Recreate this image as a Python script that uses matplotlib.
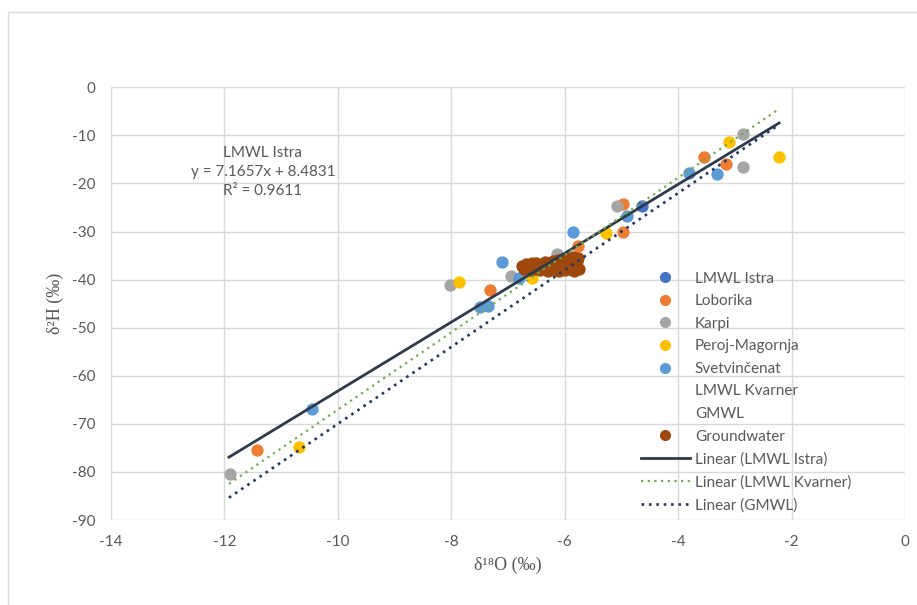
import numpy as np
import matplotlib.pyplot as plt
from matplotlib.patches import Rectangle
from matplotlib.lines import Line2D

# values (delta18O, delta2H)
istra_x = [-4.63]
istra_y = [-24.7]

loborika_x = [-11.42, -7.32, -5.76, -4.97, -4.97, -3.55, -3.15]
loborika_y = [-75.4, -42.1, -33.0, -24.3, -30.2, -14.4, -15.9]

karpi_x = [-11.91, -8.02, -6.94, -6.13, -5.08, -2.86, -2.86]
karpi_y = [-80.5, -41.1, -39.2, -34.7, -24.6, -9.8, -16.5]

peroj_x = [-10.68, -7.86, -6.58, -5.28, -3.11, -2.22]
peroj_y = [-74.9, -40.6, -39.7, -30.4, -11.3, -14.6]

svet_x = [-10.46, -7.49, -7.35, -7.10, -6.80, -5.85, -4.90, -3.80, -3.32]
svet_y = [-66.9, -45.6, -45.5, -36.3, -39.6, -30.0, -26.7, -17.9, -18.0]

gw_x = [-6.75, -6.72, -6.68, -6.65, -6.62, -6.58, -6.55, -6.52, -6.50, -6.47,
        -6.44, -6.42, -6.38, -6.35, -6.32, -6.30, -6.27, -6.24, -6.20, -6.18,
        -6.15, -6.12, -6.10, -6.07, -6.04, -6.02, -6.00, -5.97, -5.95, -5.92,
        -5.90, -5.87, -5.85, -5.83, -5.80, -5.78, -5.76, -5.75, -6.60, -6.28,
        -5.98]
gw_y = [-37.2, -37.8, -36.8, -37.5, -38.0, -36.5, -37.2, -37.8, -36.6, -37.4,
        -38.1, -36.9, -37.6, -36.4, -37.2, -38.2, -36.8, -37.5, -36.2, -37.9,
        -37.0, -36.0, -38.3, -37.3, -35.8, -36.7, -38.0, -37.1, -35.6, -36.4,
        -37.8, -36.9, -35.4, -38.2, -37.3, -36.2, -35.5, -37.7, -37.0, -37.0,
        -36.5]

# trendlines: slope, intercept, x range
istra_fit = (7.1657, 8.4831)
kvarner_fit = (8.04, 13.35)
gmwl_fit = (8.0, 10.0)
fit_x = [-11.92, -2.22]

plt.rcParams['font.family'] = ['Lato', 'DejaVu Sans']
plt.rcParams['axes.unicode_minus'] = False

fig = plt.figure(figsize=(9.17, 6.05), dpi=100)
fig.patches.append(Rectangle((7.5 / 917, -0.1), 1.2, 1 - 12 / 605 + 0.1,
                             transform=fig.transFigure, fill=False,
                             edgecolor='#D9D9D9', lw=1))
ax = fig.add_axes([111 / 917, 1 - 520 / 605, 794 / 917, 432.7 / 605])

ms = 62
ax.scatter(istra_x, istra_y, s=ms, color='#4472C4', zorder=3, label='LMWL Istra')
ax.scatter(loborika_x, loborika_y, s=ms, color='#ED7D31', zorder=3, label='Loborika')
ax.scatter(karpi_x, karpi_y, s=ms, color='#A5A5A5', zorder=3, label='Karpi')
ax.scatter(peroj_x, peroj_y, s=ms, color='#FFC000', zorder=3, label='Peroj-Magornja')
ax.scatter(svet_x, svet_y, s=ms, color='#5B9BD5', zorder=3, label='Svetvinčenat')
ax.scatter(gw_x, gw_y, s=ms, color='#9E480E', zorder=4, label='Groundwater')

fx = np.array(fit_x)
ax.plot(fx, istra_fit[0] * fx + istra_fit[1], color='#2E3B4E', lw=2, zorder=5)
ax.plot(fx, kvarner_fit[0] * fx + kvarner_fit[1], color='#70AD47', lw=1.6,
        linestyle=(0, (1, 2)), zorder=5)
ax.plot(fx, gmwl_fit[0] * fx + gmwl_fit[1], color='#203864', lw=1.9,
        linestyle=(0, (1, 1.8)), zorder=5)

ax.set_xlim(-14, 0)
ax.set_ylim(-90, 0)
ax.set_xticks(range(-14, 1, 2))
ax.set_yticks(range(-90, 1, 10))
ax.grid(True, color='#D9D9D9', lw=1)
ax.set_axisbelow(True)
for s in ax.spines.values():
    s.set_visible(False)
ax.tick_params(length=0, labelsize=11, labelcolor='#595959')
ax.tick_params(axis='y', pad=11)
ax.tick_params(axis='x', pad=11)

ax.set_xlabel('δ¹⁸O (‰)', family=['Liberation Serif', 'DejaVu Serif'],
              fontsize=13, color='#595959', labelpad=5)
ax.set_ylabel('δ²H (‰)', family=['Liberation Serif', 'DejaVu Serif'],
              fontsize=13, color='#595959', labelpad=6)

ax.text(-11.32, -17.6, 'LMWL Istra\ny = 7.1657x + 8.4831\nR² = 0.9611',
        ha='center', va='center', fontsize=11, color='#595959', linespacing=1.45)

mk = dict(marker='o', linestyle='none', markersize=7)
handles = [
    Line2D([], [], color='#4472C4', **mk),
    Line2D([], [], color='#ED7D31', **mk),
    Line2D([], [], color='#A5A5A5', **mk),
    Line2D([], [], color='#FFC000', **mk),
    Line2D([], [], color='#5B9BD5', **mk),
    Line2D([], [], color='none'),
    Line2D([], [], color='none'),
    Line2D([], [], color='#9E480E', **mk),
    Line2D([], [], color='#2E3B4E', lw=2),
    Line2D([], [], color='#70AD47', lw=1.6, linestyle=(0, (1, 2))),
    Line2D([], [], color='#203864', lw=1.9, linestyle=(0, (1, 1.8))),
]
labels = ['LMWL Istra', 'Loborika', 'Karpi', 'Peroj-Magornja', 'Svetvinčenat',
          'LMWL Kvarner', 'GMWL', 'Groundwater', 'Linear (LMWL Istra)',
          'Linear (LMWL Kvarner)', 'Linear (GMWL)']
leg = fig.legend(handles, labels, loc='upper left',
                 bbox_to_anchor=(633 / 917, 1 - 264 / 605), frameon=False,
                 fontsize=11, labelcolor='#595959', handlelength=3.2,
                 handletextpad=0.35, labelspacing=0.56, borderpad=0)

fig.savefig('out.png', dpi=100, facecolor='white')
